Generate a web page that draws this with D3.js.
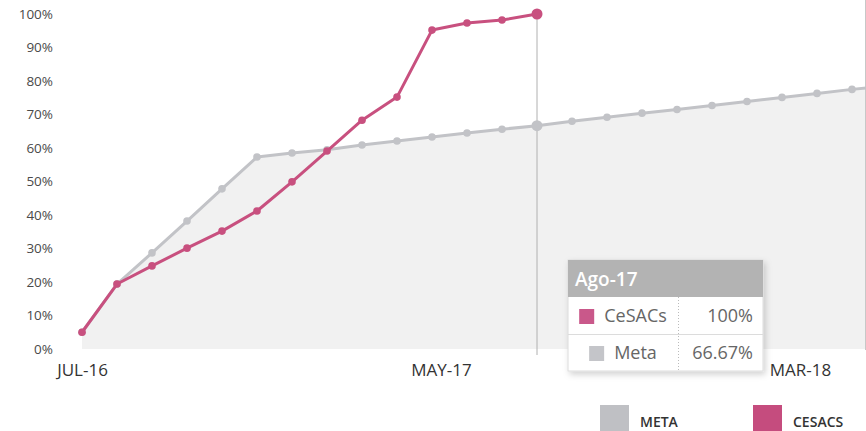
<!DOCTYPE html>
<html>
<head>
<meta charset="utf-8">
<script src="https://cdn.jsdelivr.net/npm/d3@7"></script>
<style>
  body { margin: 0; background: #fff; }
  svg { display: block; font-family: 'Open Sans', sans-serif; }
</style>
</head>
<body>
<div id="chart"></div>
<script>
// Categories (months)
const months = ['Jul-16', 'Ago-16', 'Sep-16', 'Oct-16', 'Nov-16', 'Dic-16',
  'Ene-17', 'Feb-17', 'Mar-17', 'Abr-17', 'May-17', 'Jun-17', 'Jul-17', 'Ago-17',
  'Sep-17', 'Oct-17', 'Nov-17', 'Dic-17', 'Ene-18', 'Feb-18', 'Mar-18', 'Abr-18',
  'May-18', 'Jun-18']

// Series values (%)
const cesacs = [5, 19.4, 24.8, 30.1, 35.2, 41.2, 49.9, 59.1, 68.3, 75.2, 95.2, 97.3, 98.2, 100]
const meta = [5, 19.4, 28.7, 38.2, 47.8, 57.3, 58.5, 59.5, 60.9, 62.1, 63.3, 64.5, 65.6, 66.67,
  68.0, 69.2, 70.4, 71.5, 72.7, 73.9, 75.1, 76.3, 77.5, 78.6]

const yTicks = [0, 10, 20, 30, 40, 50, 60, 70, 80, 90, 100]
const xTickLabels = ['Jul-16', 'May-17', 'Mar-18']
const hoverIndex = 13

const width = 866,
  height = 431

const pink = '#c8507f',
  grey = '#c2c3c7'

let svg = d3.select('#chart')
  .append('svg')
  .attr('width', width)
  .attr('height', height)

let defs = svg.append('defs')
let shadow = defs.append('filter').attr('id', 'shadow')
  .attr('x', '-20%').attr('y', '-20%').attr('width', '140%').attr('height', '150%')
shadow.append('feDropShadow')
  .attr('dx', 2).attr('dy', 3).attr('stdDeviation', 3)
  .attr('flood-color', '#000').attr('flood-opacity', 0.18)

// scales
let x = d3.scalePoint()
  .domain(months)
  .range([82, 82 + 35 * (months.length - 1)])

// axis labels sit on a slightly wider step than the points
let xLabel = d3.scalePoint()
  .domain(months)
  .range([82, 82 + 35.9 * (months.length - 1)])

let y = d3.scaleLinear()
  .domain([0, 100])
  .range([349, 14])

// y axis labels
svg.append('g')
  .attr('transform', 'translate(53,0)')
  .call(d3.axisLeft(y).tickValues(yTicks).tickSize(0).tickPadding(0).tickFormat(d => d + '%'))
  .call(g => g.select('.domain').remove())
  .call(g => g.selectAll('text')
    .attr('fill', '#4a4a4a')
    .style('font-size', '13.5px')
    .style('font-family', "'Open Sans', sans-serif"))

// x axis labels
svg.append('g')
  .attr('transform', 'translate(0,361)')
  .call(d3.axisBottom(xLabel).tickValues(xTickLabels).tickSize(0).tickPadding(0)
    .tickFormat(d => d.toUpperCase()))
  .call(g => g.select('.domain').remove())
  .call(g => g.selectAll('text')
    .attr('fill', '#333')
    .attr('dy', '0.9em')
    .style('font-size', '17px')
    .style('font-family', "'Open Sans', sans-serif"))

// meta area
let metaData = meta.map((v, i) => ({ m: months[i], v: v }))
let cesacsData = cesacs.map((v, i) => ({ m: months[i], v: v }))

svg.append('path')
  .datum(metaData)
  .attr('fill', '#f1f1f1')
  .attr('d', d3.area().x(d => x(d.m)).y0(y(0)).y1(d => y(d.v)))

// right border
svg.append('line')
  .attr('x1', 865.5).attr('x2', 865.5)
  .attr('y1', 0).attr('y2', 350)
  .attr('stroke', '#c8c8c8')
  .attr('stroke-width', 1)

// crosshair
svg.append('line')
  .attr('x1', x(months[hoverIndex])).attr('x2', x(months[hoverIndex]))
  .attr('y1', y(100)).attr('y2', 355)
  .attr('stroke', '#b0b0b0')
  .attr('stroke-width', 1)

let line = d3.line().x(d => x(d.m)).y(d => y(d.v))

// meta line
svg.append('path')
  .datum(metaData)
  .attr('fill', 'none')
  .attr('stroke', grey)
  .attr('stroke-width', 3)
  .attr('stroke-linejoin', 'round')
  .attr('d', line)

svg.selectAll('circle.meta')
  .data(metaData)
  .enter()
  .append('circle')
  .attr('class', 'meta')
  .attr('cx', d => x(d.m))
  .attr('cy', d => y(d.v))
  .attr('r', (d, i) => i === hoverIndex ? 5.5 : 3.8)
  .attr('fill', grey)

// cesacs line
svg.append('path')
  .datum(cesacsData)
  .attr('fill', 'none')
  .attr('stroke', pink)
  .attr('stroke-width', 3)
  .attr('stroke-linejoin', 'round')
  .attr('d', line)

svg.selectAll('circle.cesacs')
  .data(cesacsData)
  .enter()
  .append('circle')
  .attr('class', 'cesacs')
  .attr('cx', d => x(d.m))
  .attr('cy', d => y(d.v))
  .attr('r', (d, i) => i === hoverIndex ? 5.5 : 3.8)
  .attr('fill', pink)

// tooltip
let tip = svg.append('g').attr('transform', 'translate(568,260)')
tip.append('rect')
  .attr('width', 195).attr('height', 111)
  .attr('fill', '#fff')
  .attr('stroke', '#dcdcdc')
  .attr('filter', 'url(#shadow)')
tip.append('rect')
  .attr('width', 195).attr('height', 37)
  .attr('fill', '#b3b3b3')
tip.append('text')
  .attr('x', 7).attr('y', 26)
  .attr('fill', '#fff')
  .style('font-size', '19px')
  .style('font-weight', '600')
  .text(months[hoverIndex])

let rows = [
  { name: 'CeSACs', color: '#c9588a', value: cesacs[hoverIndex] + '%' },
  { name: 'Meta', color: '#c4c5c9', value: meta[hoverIndex] + '%' }
]
tip.append('line')
  .attr('x1', 0).attr('x2', 195)
  .attr('y1', 74.5).attr('y2', 74.5)
  .attr('stroke', '#dcdcdc')
tip.append('line')
  .attr('x1', 110.5).attr('x2', 110.5)
  .attr('y1', 37).attr('y2', 111)
  .attr('stroke', '#bbb')
  .attr('stroke-dasharray', '1,2')

rows.forEach((r, i) => {
  let g = tip.append('g').attr('transform', `translate(0,${37 + i * 37})`)
  let label = g.append('text')
    .attr('y', 25)
    .attr('fill', '#666')
    .style('font-size', '18px')
    .text(r.name)
  let w = label.node().getComputedTextLength()
  let total = 15 + 10 + w
  let start = 55 - total / 2
  g.append('rect')
    .attr('x', start).attr('y', 12)
    .attr('width', 15).attr('height', 15)
    .attr('fill', r.color)
  label.attr('x', start + 25)
  g.append('text')
    .attr('x', 185).attr('y', 25)
    .attr('text-anchor', 'end')
    .attr('fill', '#666')
    .style('font-size', '18px')
    .text(r.value)
})

// legend
let legend = [
  { name: 'META', color: '#bfc0c4', x: 600 },
  { name: 'CESACS', color: '#c54c7e', x: 753 }
]
let lg = svg.selectAll('g.legend')
  .data(legend)
  .enter()
  .append('g')
  .attr('class', 'legend')
  .attr('transform', d => `translate(${d.x},405)`)
lg.append('rect')
  .attr('width', 29).attr('height', 26)
  .attr('fill', d => d.color)
lg.append('text')
  .attr('x', 40).attr('y', 22)
  .attr('fill', '#333')
  .style('font-size', '14px')
  .style('font-weight', '600')
  .text(d => d.name)
</script>
</body>
</html>
